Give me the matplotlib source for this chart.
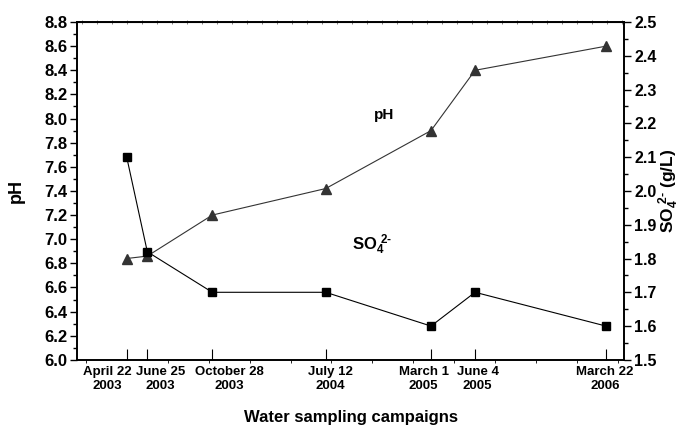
import matplotlib.pyplot as plt
from matplotlib.ticker import MultipleLocator, FixedLocator, NullFormatter

plt.rcParams['font.family'] = ['Liberation Sans', 'DejaVu Sans']
plt.rcParams['font.weight'] = 'bold'
plt.rcParams['axes.labelweight'] = 'bold'
plt.rcParams['mathtext.fontset'] = 'custom'
plt.rcParams['mathtext.rm'] = 'Liberation Sans:bold'
plt.rcParams['mathtext.bf'] = 'Liberation Sans:bold'
plt.rcParams['mathtext.default'] = 'bf'

# sampling campaigns (x position in months after the first campaign, as drawn)
campaigns = ['April 22\n2003', 'June 25\n2003', 'October 28\n2003', 'July 12\n2004',
             'March 1\n2005', 'June 4\n2005', 'March 22\n2006']
x_pos = [0, 1.51, 6.27, 14.58, 22.29, 25.52, 35.11]
# where the campaign labels sit under the axis (shifted to avoid overlap)
label_pos = [-1.41, 2.48, 7.49, 14.94, 21.75, 25.7, 35.04]
ph = [6.84, 6.86, 7.2, 7.42, 7.9, 8.4, 8.6]
so4 = [2.1, 1.82, 1.7, 1.7, 1.6, 1.7, 1.6]

fig = plt.figure(figsize=(6.84, 4.32), dpi=100)
ax = fig.add_axes([0.113, 0.167, 0.7997, 0.782])
ax2 = ax.twinx()

ax.plot(x_pos, ph, '-^', color='#333333', lw=0.8, ms=7.5, mec='#333333', zorder=3)
ax2.plot(x_pos, so4, '-s', color='black', lw=0.8, ms=5.5, zorder=3)

ax.set_xlim(-3.62, 36.45)
ax.set_ylim(6.0, 8.8)
ax2.set_ylim(1.5, 2.5)

# left axis
ax.yaxis.set_major_locator(MultipleLocator(0.2))
ax.yaxis.set_minor_locator(MultipleLocator(0.1))
ax.yaxis.set_major_formatter(plt.FormatStrFormatter('%.1f'))
ax.tick_params(axis='y', which='major', direction='out', length=5, width=1, labelsize=12, pad=2)
ax.tick_params(axis='y', which='minor', direction='out', length=3, width=1)

# right axis
ax2.yaxis.set_major_locator(MultipleLocator(0.1))
ax2.yaxis.set_minor_locator(MultipleLocator(0.05))
ax2.yaxis.set_major_formatter(plt.FormatStrFormatter('%.1f'))
ax2.tick_params(axis='y', which='major', direction='out', length=5, width=1, labelsize=11.5, pad=2)
ax2.tick_params(axis='y', which='minor', direction='out', length=3, width=1)

# bottom axis: campaign ticks inside, small minor ticks outside
ax.xaxis.set_major_locator(FixedLocator(x_pos))
ax.xaxis.set_major_formatter(NullFormatter())
ax.xaxis.set_minor_locator(MultipleLocator(3))
ax.xaxis.set_minor_formatter(NullFormatter())
ax.tick_params(axis='x', which='major', direction='in', length=8, width=0.8)
ax.tick_params(axis='x', which='minor', direction='out', length=2, width=0.6)

xtrans = ax.get_xaxis_transform()
for lp, lab in zip(label_pos, campaigns):
    ax.text(lp, -0.018, lab, transform=xtrans, ha='center', va='top',
            fontsize=9.5, linespacing=1.25)

# top spine minor ticks
top = ax.secondary_xaxis('top')
top.xaxis.set_major_locator(MultipleLocator(1.1))
top.xaxis.set_major_formatter(NullFormatter())
top.tick_params(axis='x', which='major', direction='inout', length=3, width=0.5, color='#555555')

for a in (ax, ax2):
    for s in a.spines.values():
        s.set_linewidth(1.2)

ax.set_ylabel('pH', fontsize=13, labelpad=14)
ax2.set_ylabel(r'SO$_{4}^{\,\,2\text{-}}$ (g/L)', fontsize=12.5, labelpad=0)
ax.set_xlabel('Water sampling campaigns', fontsize=12, labelpad=31)

ax.text(18.85, 8.03, 'pH', fontsize=11, ha='center', va='center')
ax2.text(18.0, 1.84, r'SO$_{4}^{\,\,2\text{-}}$', fontsize=12, ha='center', va='center')

fig.savefig('out.png', dpi=100)
